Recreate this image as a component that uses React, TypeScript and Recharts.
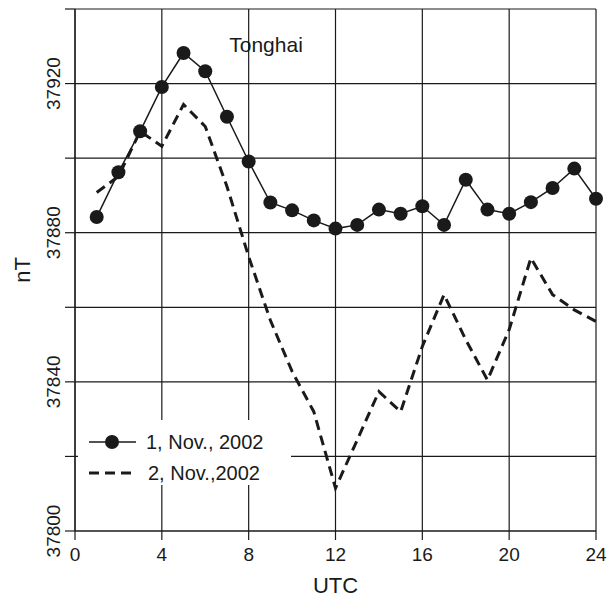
import React from 'react';
import { LineChart, Line, XAxis, YAxis, CartesianGrid, Legend, Label, ReferenceDot } from 'recharts';

document.body.style.margin = '0';

// hours (UTC)
const hours = [1, 2, 3, 4, 5, 6, 7, 8, 9, 10, 11, 12, 13, 14, 15, 16, 17, 18, 19, 20, 21, 22, 23, 24];
// 1 Nov 2002, total field nT
const nov1 = [37884.2, 37896.2, 37907.2, 37919.1, 37928.2, 37923.3, 37911.1, 37899.1, 37888.1, 37886.0, 37883.3, 37881.1,
  37882.1, 37886.2, 37885.1, 37887.1, 37882.1, 37894.2, 37886.2, 37885.1, 37888.2, 37892.0, 37897.2, 37889.1];
// 2 Nov 2002
const nov2 = [37890.8, 37895.1, 37907.2, 37903.2, 37914.4, 37908.5, 37892.4, 37873.6, 37856.5, 37842.8, 37832.0, 37811.5,
  37824.4, 37837.4, 37832.0, 37849.5, 37863.4, 37851.3, 37840.5, 37854.0, 37873.2, 37863.4, 37859.3, 37856.2];

const xTicks = [0, 4, 8, 12, 16, 20, 24];
const yTicks = [37800, 37820, 37840, 37860, 37880, 37900, 37920, 37940];
const yLabelled = [37800, 37840, 37880, 37920];

const seriesNames = ['1, Nov., 2002', '2, Nov.,2002'];
const stationName = 'Tonghai';

const data = hours.map((h, i) => ({ h, a: nov1[i], b: nov2[i] }));

const ink = '#1a1a1a';
const font = '"Liberation Sans", Arial, sans-serif';

const YTick = (props: any) => {
  const { x, y, payload } = props;
  if (!yLabelled.includes(payload.value)) return null;
  return (
    <text x={x} y={y} transform={`rotate(-90, ${x}, ${y})`} textAnchor="middle" fontSize={19} fill={ink} fontFamily={font}>
      {payload.value}
    </text>
  );
};

const YTitle = (props: any) => {
  const vb = props.viewBox || {};
  const cy = vb.y != null ? vb.y + vb.height / 2 : 270;
  const cx = 30;
  return (
    <text x={cx} y={cy} transform={`rotate(-90, ${cx}, ${cy})`} textAnchor="middle" fontSize={22} fill={ink} fontFamily={font}>
      nT
    </text>
  );
};

const LegendBox = () => (
  <svg width={213} height={65} style={{ display: 'block', background: '#fff' }}>
    <line x1={11} x2={58} y1={22} y2={22} stroke={ink} strokeWidth={1.5} />
    <circle cx={34} cy={22} r={7} fill={ink} />
    <text x={68} y={29} fontSize={20} fill={ink} fontFamily={font}>{seriesNames[0]}</text>
    <line x1={11} x2={58} y1={53} y2={53} stroke={ink} strokeWidth={3} strokeDasharray="10 6" />
    <text x={70} y={60} fontSize={20} fill={ink} fontFamily={font}>{seriesNames[1]}</text>
  </svg>
);

export default function App() {
  return (
    <div style={{ width: 610, height: 597, background: '#fff', fontFamily: font }}>
      <LineChart width={610} height={597} data={data} margin={{ top: 9, right: 14, bottom: 0, left: 0 }}>
        <CartesianGrid stroke={ink} strokeWidth={1.2} horizontalValues={yTicks} verticalValues={xTicks} />
        <XAxis
          dataKey="h"
          type="number"
          domain={[0, 24]}
          ticks={xTicks}
          height={66}
          tickSize={9}
          tickMargin={8}
          stroke={ink}
          strokeWidth={1.2}
          tick={{ fontSize: 19, fill: ink }}
        >
          <Label value="UTC" position="insideBottom" offset={4} fontSize={22} fill={ink} />
        </XAxis>
        <YAxis
          type="number"
          domain={[37800, 37940]}
          ticks={yTicks}
          width={75}
          tickSize={10}
          tickMargin={5}
          stroke={ink}
          strokeWidth={1.2}
          tick={<YTick />}
          allowDataOverflow
        >
          <Label content={<YTitle />} />
        </YAxis>
        <Legend
          layout="horizontal"
          verticalAlign="middle"
          align="center"
          content={<LegendBox />}
          wrapperStyle={{ left: 78, top: 420, width: 213, height: 65 }}
        />
        <Line
          name={seriesNames[0]}
          dataKey="a"
          stroke={ink}
          strokeWidth={1.5}
          dot={{ r: 7, fill: ink, stroke: ink, strokeWidth: 0 }}
          isAnimationActive={false}
        />
        <Line
          name={seriesNames[1]}
          dataKey="b"
          stroke={ink}
          strokeWidth={3}
          strokeDasharray="10 6"
          dot={false}
          isAnimationActive={false}
        />
        <ReferenceDot
          x={8.8}
          y={37930.5}
          r={0}
          fill="none"
          stroke="none"
          label={{ value: stationName, position: 'center', fontSize: 21, fill: ink }}
        />
      </LineChart>
    </div>
  );
}
